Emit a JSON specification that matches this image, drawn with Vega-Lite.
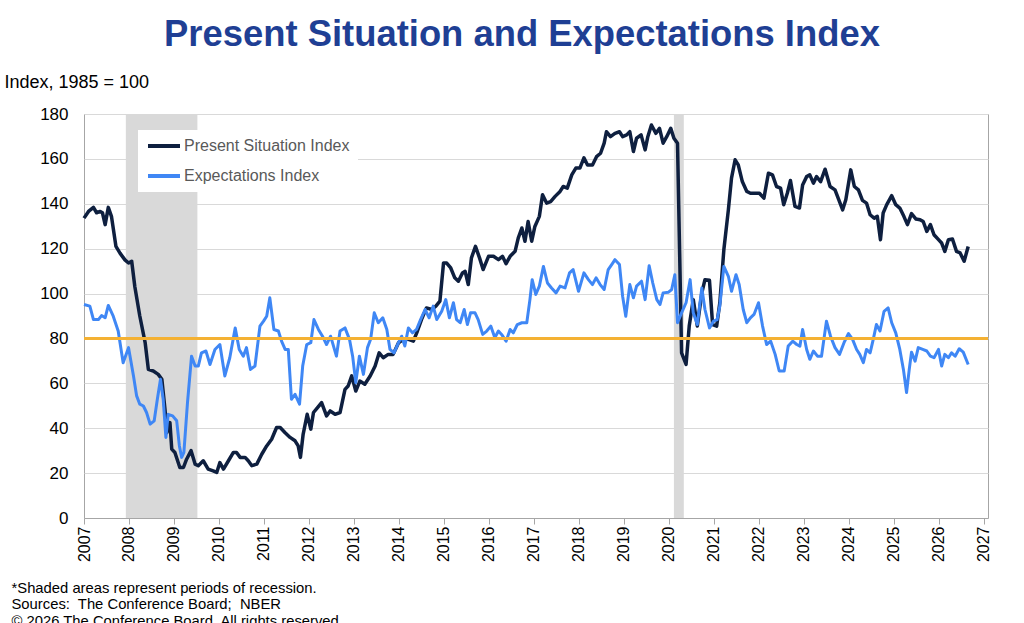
{
  "$schema": "https://vega.github.io/schema/vega-lite/v6.json",
  "width": 904,
  "height": 404,
  "autosize": {"type": "none"},
  "padding": {"left": 84, "top": 114, "right": 36, "bottom": 105},
  "background": "white",
  "config": {
    "font": "Liberation Sans",
    "view": {"stroke": "#a6a6a6", "strokeWidth": 1}
  },
  "title": {
    "text": "Present Situation and Expectations Index",
    "font": "Liberation Sans",
    "fontSize": 36.4,
    "fontWeight": "bold",
    "color": "#1f3f94",
    "anchor": "middle",
    "dx": -14,
    "offset": 20
  },
  "datasets": {
    "recessions": [
      {"t": 2007.93, "t2": 2009.52},
      {"t": 2020.11, "t2": 2020.33}
    ],
    "index": [
      {"t": 2007.00, "s": "Present Situation Index", "v": 133.6},
      {"t": 2007.10, "s": "Present Situation Index", "v": 136.6},
      {"t": 2007.21, "s": "Present Situation Index", "v": 138.4},
      {"t": 2007.28, "s": "Present Situation Index", "v": 136},
      {"t": 2007.36, "s": "Present Situation Index", "v": 136.6},
      {"t": 2007.41, "s": "Present Situation Index", "v": 136},
      {"t": 2007.47, "s": "Present Situation Index", "v": 130.7},
      {"t": 2007.54, "s": "Present Situation Index", "v": 138.4},
      {"t": 2007.61, "s": "Present Situation Index", "v": 134.4},
      {"t": 2007.71, "s": "Present Situation Index", "v": 121},
      {"t": 2007.80, "s": "Present Situation Index", "v": 118},
      {"t": 2007.91, "s": "Present Situation Index", "v": 115},
      {"t": 2007.99, "s": "Present Situation Index", "v": 113.6},
      {"t": 2008.06, "s": "Present Situation Index", "v": 114.4},
      {"t": 2008.13, "s": "Present Situation Index", "v": 103},
      {"t": 2008.24, "s": "Present Situation Index", "v": 90},
      {"t": 2008.36, "s": "Present Situation Index", "v": 78},
      {"t": 2008.43, "s": "Present Situation Index", "v": 66.2},
      {"t": 2008.54, "s": "Present Situation Index", "v": 65.5},
      {"t": 2008.65, "s": "Present Situation Index", "v": 64},
      {"t": 2008.73, "s": "Present Situation Index", "v": 61.8},
      {"t": 2008.80, "s": "Present Situation Index", "v": 48.4},
      {"t": 2008.84, "s": "Present Situation Index", "v": 38},
      {"t": 2008.91, "s": "Present Situation Index", "v": 42.5},
      {"t": 2008.95, "s": "Present Situation Index", "v": 30.7},
      {"t": 2009.02, "s": "Present Situation Index", "v": 29.2},
      {"t": 2009.13, "s": "Present Situation Index", "v": 22.5},
      {"t": 2009.21, "s": "Present Situation Index", "v": 22.5},
      {"t": 2009.28, "s": "Present Situation Index", "v": 26.2},
      {"t": 2009.38, "s": "Present Situation Index", "v": 30},
      {"t": 2009.47, "s": "Present Situation Index", "v": 24},
      {"t": 2009.54, "s": "Present Situation Index", "v": 23.3},
      {"t": 2009.65, "s": "Present Situation Index", "v": 25.5},
      {"t": 2009.76, "s": "Present Situation Index", "v": 21.8},
      {"t": 2009.87, "s": "Present Situation Index", "v": 21},
      {"t": 2009.95, "s": "Present Situation Index", "v": 20.3},
      {"t": 2010.02, "s": "Present Situation Index", "v": 24.7},
      {"t": 2010.10, "s": "Present Situation Index", "v": 21.8},
      {"t": 2010.21, "s": "Present Situation Index", "v": 25.5},
      {"t": 2010.32, "s": "Present Situation Index", "v": 29.2},
      {"t": 2010.39, "s": "Present Situation Index", "v": 29.2},
      {"t": 2010.47, "s": "Present Situation Index", "v": 27},
      {"t": 2010.58, "s": "Present Situation Index", "v": 27},
      {"t": 2010.65, "s": "Present Situation Index", "v": 25.5},
      {"t": 2010.73, "s": "Present Situation Index", "v": 23.3},
      {"t": 2010.84, "s": "Present Situation Index", "v": 24},
      {"t": 2010.95, "s": "Present Situation Index", "v": 28.4},
      {"t": 2011.06, "s": "Present Situation Index", "v": 32.1},
      {"t": 2011.17, "s": "Present Situation Index", "v": 35.1},
      {"t": 2011.28, "s": "Present Situation Index", "v": 40.3},
      {"t": 2011.36, "s": "Present Situation Index", "v": 40.3},
      {"t": 2011.47, "s": "Present Situation Index", "v": 38},
      {"t": 2011.58, "s": "Present Situation Index", "v": 35.9},
      {"t": 2011.69, "s": "Present Situation Index", "v": 34.4},
      {"t": 2011.76, "s": "Present Situation Index", "v": 32.1},
      {"t": 2011.81, "s": "Present Situation Index", "v": 27},
      {"t": 2011.87, "s": "Present Situation Index", "v": 37.3},
      {"t": 2011.96, "s": "Present Situation Index", "v": 46.2},
      {"t": 2012.04, "s": "Present Situation Index", "v": 39.6},
      {"t": 2012.10, "s": "Present Situation Index", "v": 47},
      {"t": 2012.19, "s": "Present Situation Index", "v": 49.2},
      {"t": 2012.28, "s": "Present Situation Index", "v": 51.4},
      {"t": 2012.39, "s": "Present Situation Index", "v": 45.5},
      {"t": 2012.47, "s": "Present Situation Index", "v": 47.7},
      {"t": 2012.58, "s": "Present Situation Index", "v": 46.2},
      {"t": 2012.69, "s": "Present Situation Index", "v": 47},
      {"t": 2012.80, "s": "Present Situation Index", "v": 57.3},
      {"t": 2012.87, "s": "Present Situation Index", "v": 58.8},
      {"t": 2012.95, "s": "Present Situation Index", "v": 63.3},
      {"t": 2013.04, "s": "Present Situation Index", "v": 56.6},
      {"t": 2013.13, "s": "Present Situation Index", "v": 61},
      {"t": 2013.24, "s": "Present Situation Index", "v": 59.6},
      {"t": 2013.36, "s": "Present Situation Index", "v": 63.3},
      {"t": 2013.47, "s": "Present Situation Index", "v": 67.7},
      {"t": 2013.56, "s": "Present Situation Index", "v": 73.6},
      {"t": 2013.65, "s": "Present Situation Index", "v": 71.4},
      {"t": 2013.76, "s": "Present Situation Index", "v": 72.9},
      {"t": 2013.87, "s": "Present Situation Index", "v": 72.9},
      {"t": 2013.99, "s": "Present Situation Index", "v": 78.1},
      {"t": 2014.10, "s": "Present Situation Index", "v": 79.6},
      {"t": 2014.21, "s": "Present Situation Index", "v": 79.6},
      {"t": 2014.32, "s": "Present Situation Index", "v": 78.8},
      {"t": 2014.41, "s": "Present Situation Index", "v": 83.3},
      {"t": 2014.50, "s": "Present Situation Index", "v": 88.4},
      {"t": 2014.61, "s": "Present Situation Index", "v": 93.6},
      {"t": 2014.73, "s": "Present Situation Index", "v": 92.9},
      {"t": 2014.82, "s": "Present Situation Index", "v": 94.4},
      {"t": 2014.91, "s": "Present Situation Index", "v": 96.6},
      {"t": 2014.99, "s": "Present Situation Index", "v": 113.6},
      {"t": 2015.06, "s": "Present Situation Index", "v": 113.6},
      {"t": 2015.15, "s": "Present Situation Index", "v": 111.4},
      {"t": 2015.24, "s": "Present Situation Index", "v": 107},
      {"t": 2015.32, "s": "Present Situation Index", "v": 105.5},
      {"t": 2015.41, "s": "Present Situation Index", "v": 109.2},
      {"t": 2015.47, "s": "Present Situation Index", "v": 109.9},
      {"t": 2015.54, "s": "Present Situation Index", "v": 104},
      {"t": 2015.61, "s": "Present Situation Index", "v": 115.9},
      {"t": 2015.70, "s": "Present Situation Index", "v": 121},
      {"t": 2015.79, "s": "Present Situation Index", "v": 115.9},
      {"t": 2015.87, "s": "Present Situation Index", "v": 110.7},
      {"t": 2015.99, "s": "Present Situation Index", "v": 116.6},
      {"t": 2016.10, "s": "Present Situation Index", "v": 116.6},
      {"t": 2016.21, "s": "Present Situation Index", "v": 115.1},
      {"t": 2016.30, "s": "Present Situation Index", "v": 116.6},
      {"t": 2016.38, "s": "Present Situation Index", "v": 113.3},
      {"t": 2016.47, "s": "Present Situation Index", "v": 116.6},
      {"t": 2016.58, "s": "Present Situation Index", "v": 118.8},
      {"t": 2016.65, "s": "Present Situation Index", "v": 124.7},
      {"t": 2016.73, "s": "Present Situation Index", "v": 129.2},
      {"t": 2016.80, "s": "Present Situation Index", "v": 123.3},
      {"t": 2016.87, "s": "Present Situation Index", "v": 132.1},
      {"t": 2016.95, "s": "Present Situation Index", "v": 123.3},
      {"t": 2017.02, "s": "Present Situation Index", "v": 129.9},
      {"t": 2017.12, "s": "Present Situation Index", "v": 134.4},
      {"t": 2017.19, "s": "Present Situation Index", "v": 144},
      {"t": 2017.28, "s": "Present Situation Index", "v": 140.3},
      {"t": 2017.37, "s": "Present Situation Index", "v": 141},
      {"t": 2017.47, "s": "Present Situation Index", "v": 143.3},
      {"t": 2017.58, "s": "Present Situation Index", "v": 145.5},
      {"t": 2017.65, "s": "Present Situation Index", "v": 147.7},
      {"t": 2017.74, "s": "Present Situation Index", "v": 147},
      {"t": 2017.84, "s": "Present Situation Index", "v": 152.9},
      {"t": 2017.93, "s": "Present Situation Index", "v": 155.9},
      {"t": 2018.02, "s": "Present Situation Index", "v": 155.9},
      {"t": 2018.11, "s": "Present Situation Index", "v": 160.5},
      {"t": 2018.19, "s": "Present Situation Index", "v": 157.3},
      {"t": 2018.30, "s": "Present Situation Index", "v": 157.3},
      {"t": 2018.39, "s": "Present Situation Index", "v": 161},
      {"t": 2018.48, "s": "Present Situation Index", "v": 162.5},
      {"t": 2018.56, "s": "Present Situation Index", "v": 167},
      {"t": 2018.61, "s": "Present Situation Index", "v": 172.1},
      {"t": 2018.70, "s": "Present Situation Index", "v": 169.9},
      {"t": 2018.80, "s": "Present Situation Index", "v": 171.4},
      {"t": 2018.90, "s": "Present Situation Index", "v": 172.1},
      {"t": 2018.97, "s": "Present Situation Index", "v": 169.9},
      {"t": 2019.06, "s": "Present Situation Index", "v": 170.7},
      {"t": 2019.13, "s": "Present Situation Index", "v": 172.1},
      {"t": 2019.21, "s": "Present Situation Index", "v": 163.3},
      {"t": 2019.28, "s": "Present Situation Index", "v": 169.2},
      {"t": 2019.38, "s": "Present Situation Index", "v": 170.7},
      {"t": 2019.47, "s": "Present Situation Index", "v": 164},
      {"t": 2019.53, "s": "Present Situation Index", "v": 169.9},
      {"t": 2019.61, "s": "Present Situation Index", "v": 175.1},
      {"t": 2019.71, "s": "Present Situation Index", "v": 171.4},
      {"t": 2019.79, "s": "Present Situation Index", "v": 173.6},
      {"t": 2019.87, "s": "Present Situation Index", "v": 167},
      {"t": 2019.95, "s": "Present Situation Index", "v": 169.9},
      {"t": 2020.04, "s": "Present Situation Index", "v": 173.6},
      {"t": 2020.11, "s": "Present Situation Index", "v": 169.2},
      {"t": 2020.19, "s": "Present Situation Index", "v": 167},
      {"t": 2020.28, "s": "Present Situation Index", "v": 73.6},
      {"t": 2020.38, "s": "Present Situation Index", "v": 68.4},
      {"t": 2020.45, "s": "Present Situation Index", "v": 85.5},
      {"t": 2020.54, "s": "Present Situation Index", "v": 97.3},
      {"t": 2020.63, "s": "Present Situation Index", "v": 85.5},
      {"t": 2020.73, "s": "Present Situation Index", "v": 100.3},
      {"t": 2020.80, "s": "Present Situation Index", "v": 106.2},
      {"t": 2020.90, "s": "Present Situation Index", "v": 105.9},
      {"t": 2020.97, "s": "Present Situation Index", "v": 86.2},
      {"t": 2021.06, "s": "Present Situation Index", "v": 85.5},
      {"t": 2021.13, "s": "Present Situation Index", "v": 95.9},
      {"t": 2021.22, "s": "Present Situation Index", "v": 119.6},
      {"t": 2021.32, "s": "Present Situation Index", "v": 137.3},
      {"t": 2021.39, "s": "Present Situation Index", "v": 151.4},
      {"t": 2021.47, "s": "Present Situation Index", "v": 159.6},
      {"t": 2021.54, "s": "Present Situation Index", "v": 157.3},
      {"t": 2021.63, "s": "Present Situation Index", "v": 149.9},
      {"t": 2021.73, "s": "Present Situation Index", "v": 145.5},
      {"t": 2021.81, "s": "Present Situation Index", "v": 144.7},
      {"t": 2021.91, "s": "Present Situation Index", "v": 144.7},
      {"t": 2022.01, "s": "Present Situation Index", "v": 144.7},
      {"t": 2022.11, "s": "Present Situation Index", "v": 142.5},
      {"t": 2022.21, "s": "Present Situation Index", "v": 153.6},
      {"t": 2022.30, "s": "Present Situation Index", "v": 152.9},
      {"t": 2022.39, "s": "Present Situation Index", "v": 147.7},
      {"t": 2022.48, "s": "Present Situation Index", "v": 147},
      {"t": 2022.55, "s": "Present Situation Index", "v": 139.6},
      {"t": 2022.63, "s": "Present Situation Index", "v": 144.7},
      {"t": 2022.70, "s": "Present Situation Index", "v": 150.4},
      {"t": 2022.80, "s": "Present Situation Index", "v": 138.8},
      {"t": 2022.90, "s": "Present Situation Index", "v": 138.1},
      {"t": 2022.97, "s": "Present Situation Index", "v": 148.4},
      {"t": 2023.06, "s": "Present Situation Index", "v": 152.1},
      {"t": 2023.13, "s": "Present Situation Index", "v": 152.9},
      {"t": 2023.21, "s": "Present Situation Index", "v": 149.2},
      {"t": 2023.28, "s": "Present Situation Index", "v": 152.1},
      {"t": 2023.37, "s": "Present Situation Index", "v": 149.9},
      {"t": 2023.47, "s": "Present Situation Index", "v": 155.4},
      {"t": 2023.58, "s": "Present Situation Index", "v": 147.7},
      {"t": 2023.69, "s": "Present Situation Index", "v": 146.2},
      {"t": 2023.86, "s": "Present Situation Index", "v": 137.3},
      {"t": 2023.93, "s": "Present Situation Index", "v": 141.8},
      {"t": 2024.04, "s": "Present Situation Index", "v": 155.1},
      {"t": 2024.12, "s": "Present Situation Index", "v": 147.7},
      {"t": 2024.21, "s": "Present Situation Index", "v": 146.2},
      {"t": 2024.30, "s": "Present Situation Index", "v": 141.5},
      {"t": 2024.39, "s": "Present Situation Index", "v": 140.3},
      {"t": 2024.47, "s": "Present Situation Index", "v": 135.1},
      {"t": 2024.56, "s": "Present Situation Index", "v": 133.6},
      {"t": 2024.63, "s": "Present Situation Index", "v": 134.4},
      {"t": 2024.70, "s": "Present Situation Index", "v": 124},
      {"t": 2024.76, "s": "Present Situation Index", "v": 135.9},
      {"t": 2024.84, "s": "Present Situation Index", "v": 139.6},
      {"t": 2024.95, "s": "Present Situation Index", "v": 143.6},
      {"t": 2025.04, "s": "Present Situation Index", "v": 139.6},
      {"t": 2025.13, "s": "Present Situation Index", "v": 138.1},
      {"t": 2025.22, "s": "Present Situation Index", "v": 134.4},
      {"t": 2025.30, "s": "Present Situation Index", "v": 130.7},
      {"t": 2025.39, "s": "Present Situation Index", "v": 135.6},
      {"t": 2025.49, "s": "Present Situation Index", "v": 133.2},
      {"t": 2025.58, "s": "Present Situation Index", "v": 132.9},
      {"t": 2025.65, "s": "Present Situation Index", "v": 132.1},
      {"t": 2025.73, "s": "Present Situation Index", "v": 127.7},
      {"t": 2025.81, "s": "Present Situation Index", "v": 130.7},
      {"t": 2025.89, "s": "Present Situation Index", "v": 126.2},
      {"t": 2025.99, "s": "Present Situation Index", "v": 124},
      {"t": 2026.06, "s": "Present Situation Index", "v": 122.5},
      {"t": 2026.13, "s": "Present Situation Index", "v": 118.8},
      {"t": 2026.21, "s": "Present Situation Index", "v": 124},
      {"t": 2026.30, "s": "Present Situation Index", "v": 124.3},
      {"t": 2026.39, "s": "Present Situation Index", "v": 118.8},
      {"t": 2026.47, "s": "Present Situation Index", "v": 118.1},
      {"t": 2026.56, "s": "Present Situation Index", "v": 114.4},
      {"t": 2026.65, "s": "Present Situation Index", "v": 121},
      {"t": 2007.00, "s": "Expectations Index", "v": 95.1},
      {"t": 2007.13, "s": "Expectations Index", "v": 94.4},
      {"t": 2007.21, "s": "Expectations Index", "v": 88.4},
      {"t": 2007.32, "s": "Expectations Index", "v": 88.4},
      {"t": 2007.39, "s": "Expectations Index", "v": 90.2},
      {"t": 2007.47, "s": "Expectations Index", "v": 89.2},
      {"t": 2007.54, "s": "Expectations Index", "v": 94.7},
      {"t": 2007.65, "s": "Expectations Index", "v": 89.9},
      {"t": 2007.76, "s": "Expectations Index", "v": 83.3},
      {"t": 2007.87, "s": "Expectations Index", "v": 69.2},
      {"t": 2007.99, "s": "Expectations Index", "v": 75.9},
      {"t": 2008.10, "s": "Expectations Index", "v": 63.3},
      {"t": 2008.17, "s": "Expectations Index", "v": 54.4},
      {"t": 2008.24, "s": "Expectations Index", "v": 50.7},
      {"t": 2008.32, "s": "Expectations Index", "v": 49.9},
      {"t": 2008.39, "s": "Expectations Index", "v": 47},
      {"t": 2008.47, "s": "Expectations Index", "v": 41.8},
      {"t": 2008.56, "s": "Expectations Index", "v": 43.3},
      {"t": 2008.63, "s": "Expectations Index", "v": 52.9},
      {"t": 2008.70, "s": "Expectations Index", "v": 61.8},
      {"t": 2008.76, "s": "Expectations Index", "v": 52.9},
      {"t": 2008.82, "s": "Expectations Index", "v": 35.9},
      {"t": 2008.87, "s": "Expectations Index", "v": 46.2},
      {"t": 2008.97, "s": "Expectations Index", "v": 45.5},
      {"t": 2009.06, "s": "Expectations Index", "v": 43.3},
      {"t": 2009.12, "s": "Expectations Index", "v": 32.1},
      {"t": 2009.17, "s": "Expectations Index", "v": 27},
      {"t": 2009.22, "s": "Expectations Index", "v": 29.2},
      {"t": 2009.30, "s": "Expectations Index", "v": 51.4},
      {"t": 2009.39, "s": "Expectations Index", "v": 72.1},
      {"t": 2009.47, "s": "Expectations Index", "v": 67.7},
      {"t": 2009.54, "s": "Expectations Index", "v": 67.7},
      {"t": 2009.61, "s": "Expectations Index", "v": 73.6},
      {"t": 2009.71, "s": "Expectations Index", "v": 74.4},
      {"t": 2009.80, "s": "Expectations Index", "v": 68.4},
      {"t": 2009.91, "s": "Expectations Index", "v": 75.1},
      {"t": 2010.02, "s": "Expectations Index", "v": 77.3},
      {"t": 2010.13, "s": "Expectations Index", "v": 63.3},
      {"t": 2010.24, "s": "Expectations Index", "v": 71.4},
      {"t": 2010.36, "s": "Expectations Index", "v": 84.7},
      {"t": 2010.45, "s": "Expectations Index", "v": 75.1},
      {"t": 2010.54, "s": "Expectations Index", "v": 72.1},
      {"t": 2010.61, "s": "Expectations Index", "v": 75.9},
      {"t": 2010.70, "s": "Expectations Index", "v": 66.2},
      {"t": 2010.80, "s": "Expectations Index", "v": 67.7},
      {"t": 2010.91, "s": "Expectations Index", "v": 85.5},
      {"t": 2010.99, "s": "Expectations Index", "v": 87.7},
      {"t": 2011.06, "s": "Expectations Index", "v": 89.9},
      {"t": 2011.13, "s": "Expectations Index", "v": 98.1},
      {"t": 2011.22, "s": "Expectations Index", "v": 84},
      {"t": 2011.32, "s": "Expectations Index", "v": 83.3},
      {"t": 2011.39, "s": "Expectations Index", "v": 78.8},
      {"t": 2011.47, "s": "Expectations Index", "v": 75.1},
      {"t": 2011.54, "s": "Expectations Index", "v": 75.1},
      {"t": 2011.61, "s": "Expectations Index", "v": 52.9},
      {"t": 2011.69, "s": "Expectations Index", "v": 55.1},
      {"t": 2011.79, "s": "Expectations Index", "v": 50.7},
      {"t": 2011.86, "s": "Expectations Index", "v": 67.7},
      {"t": 2011.95, "s": "Expectations Index", "v": 77.3},
      {"t": 2012.04, "s": "Expectations Index", "v": 78.1},
      {"t": 2012.11, "s": "Expectations Index", "v": 88.4},
      {"t": 2012.21, "s": "Expectations Index", "v": 84},
      {"t": 2012.30, "s": "Expectations Index", "v": 81},
      {"t": 2012.39, "s": "Expectations Index", "v": 77.3},
      {"t": 2012.48, "s": "Expectations Index", "v": 81},
      {"t": 2012.61, "s": "Expectations Index", "v": 72.1},
      {"t": 2012.69, "s": "Expectations Index", "v": 83.3},
      {"t": 2012.80, "s": "Expectations Index", "v": 84.7},
      {"t": 2012.90, "s": "Expectations Index", "v": 79.6},
      {"t": 2012.97, "s": "Expectations Index", "v": 72.1},
      {"t": 2013.04, "s": "Expectations Index", "v": 60.3},
      {"t": 2013.12, "s": "Expectations Index", "v": 72.1},
      {"t": 2013.21, "s": "Expectations Index", "v": 64},
      {"t": 2013.30, "s": "Expectations Index", "v": 75.9},
      {"t": 2013.37, "s": "Expectations Index", "v": 79.6},
      {"t": 2013.45, "s": "Expectations Index", "v": 91.4},
      {"t": 2013.54, "s": "Expectations Index", "v": 87},
      {"t": 2013.64, "s": "Expectations Index", "v": 89.2},
      {"t": 2013.73, "s": "Expectations Index", "v": 84},
      {"t": 2013.80, "s": "Expectations Index", "v": 75.1},
      {"t": 2013.89, "s": "Expectations Index", "v": 73.6},
      {"t": 2013.99, "s": "Expectations Index", "v": 78.1},
      {"t": 2014.06, "s": "Expectations Index", "v": 81},
      {"t": 2014.13, "s": "Expectations Index", "v": 76.6},
      {"t": 2014.21, "s": "Expectations Index", "v": 84.7},
      {"t": 2014.30, "s": "Expectations Index", "v": 82.5},
      {"t": 2014.39, "s": "Expectations Index", "v": 84},
      {"t": 2014.48, "s": "Expectations Index", "v": 88.4},
      {"t": 2014.58, "s": "Expectations Index", "v": 92.9},
      {"t": 2014.67, "s": "Expectations Index", "v": 89.2},
      {"t": 2014.76, "s": "Expectations Index", "v": 94.4},
      {"t": 2014.84, "s": "Expectations Index", "v": 88.4},
      {"t": 2014.95, "s": "Expectations Index", "v": 92.1},
      {"t": 2015.04, "s": "Expectations Index", "v": 97.3},
      {"t": 2015.12, "s": "Expectations Index", "v": 89.2},
      {"t": 2015.21, "s": "Expectations Index", "v": 95.9},
      {"t": 2015.28, "s": "Expectations Index", "v": 88.4},
      {"t": 2015.36, "s": "Expectations Index", "v": 87},
      {"t": 2015.45, "s": "Expectations Index", "v": 92.9},
      {"t": 2015.52, "s": "Expectations Index", "v": 86.2},
      {"t": 2015.59, "s": "Expectations Index", "v": 91.4},
      {"t": 2015.69, "s": "Expectations Index", "v": 91.4},
      {"t": 2015.76, "s": "Expectations Index", "v": 88.4},
      {"t": 2015.86, "s": "Expectations Index", "v": 81.8},
      {"t": 2015.95, "s": "Expectations Index", "v": 83.3},
      {"t": 2016.04, "s": "Expectations Index", "v": 85.5},
      {"t": 2016.13, "s": "Expectations Index", "v": 80.3},
      {"t": 2016.21, "s": "Expectations Index", "v": 83.3},
      {"t": 2016.28, "s": "Expectations Index", "v": 81.8},
      {"t": 2016.38, "s": "Expectations Index", "v": 78.8},
      {"t": 2016.47, "s": "Expectations Index", "v": 84},
      {"t": 2016.54, "s": "Expectations Index", "v": 82.5},
      {"t": 2016.63, "s": "Expectations Index", "v": 86.2},
      {"t": 2016.73, "s": "Expectations Index", "v": 87},
      {"t": 2016.84, "s": "Expectations Index", "v": 87},
      {"t": 2016.91, "s": "Expectations Index", "v": 97.3},
      {"t": 2016.96, "s": "Expectations Index", "v": 106.2},
      {"t": 2017.04, "s": "Expectations Index", "v": 99.6},
      {"t": 2017.12, "s": "Expectations Index", "v": 103.3},
      {"t": 2017.21, "s": "Expectations Index", "v": 112.1},
      {"t": 2017.30, "s": "Expectations Index", "v": 104.7},
      {"t": 2017.39, "s": "Expectations Index", "v": 102.5},
      {"t": 2017.49, "s": "Expectations Index", "v": 100.3},
      {"t": 2017.58, "s": "Expectations Index", "v": 103.3},
      {"t": 2017.69, "s": "Expectations Index", "v": 102.5},
      {"t": 2017.79, "s": "Expectations Index", "v": 109.2},
      {"t": 2017.87, "s": "Expectations Index", "v": 110.7},
      {"t": 2017.99, "s": "Expectations Index", "v": 101},
      {"t": 2018.11, "s": "Expectations Index", "v": 109.2},
      {"t": 2018.21, "s": "Expectations Index", "v": 106.2},
      {"t": 2018.30, "s": "Expectations Index", "v": 104},
      {"t": 2018.38, "s": "Expectations Index", "v": 107},
      {"t": 2018.47, "s": "Expectations Index", "v": 104},
      {"t": 2018.56, "s": "Expectations Index", "v": 101.8},
      {"t": 2018.65, "s": "Expectations Index", "v": 110.7},
      {"t": 2018.75, "s": "Expectations Index", "v": 113.6},
      {"t": 2018.80, "s": "Expectations Index", "v": 115.1},
      {"t": 2018.90, "s": "Expectations Index", "v": 112.9},
      {"t": 2018.97, "s": "Expectations Index", "v": 98.8},
      {"t": 2019.04, "s": "Expectations Index", "v": 89.9},
      {"t": 2019.13, "s": "Expectations Index", "v": 104},
      {"t": 2019.21, "s": "Expectations Index", "v": 98.1},
      {"t": 2019.28, "s": "Expectations Index", "v": 103.3},
      {"t": 2019.39, "s": "Expectations Index", "v": 105.5},
      {"t": 2019.47, "s": "Expectations Index", "v": 97.3},
      {"t": 2019.56, "s": "Expectations Index", "v": 112.4},
      {"t": 2019.64, "s": "Expectations Index", "v": 104.7},
      {"t": 2019.73, "s": "Expectations Index", "v": 97.3},
      {"t": 2019.80, "s": "Expectations Index", "v": 95.1},
      {"t": 2019.87, "s": "Expectations Index", "v": 100.3},
      {"t": 2019.99, "s": "Expectations Index", "v": 100.6},
      {"t": 2020.06, "s": "Expectations Index", "v": 101.8},
      {"t": 2020.13, "s": "Expectations Index", "v": 108.4},
      {"t": 2020.19, "s": "Expectations Index", "v": 87},
      {"t": 2020.28, "s": "Expectations Index", "v": 91.4},
      {"t": 2020.38, "s": "Expectations Index", "v": 95.9},
      {"t": 2020.47, "s": "Expectations Index", "v": 106.2},
      {"t": 2020.54, "s": "Expectations Index", "v": 91.4},
      {"t": 2020.63, "s": "Expectations Index", "v": 86.2},
      {"t": 2020.73, "s": "Expectations Index", "v": 102.5},
      {"t": 2020.80, "s": "Expectations Index", "v": 92.9},
      {"t": 2020.90, "s": "Expectations Index", "v": 84.7},
      {"t": 2020.99, "s": "Expectations Index", "v": 87.7},
      {"t": 2021.07, "s": "Expectations Index", "v": 88.4},
      {"t": 2021.13, "s": "Expectations Index", "v": 94.4},
      {"t": 2021.22, "s": "Expectations Index", "v": 112.1},
      {"t": 2021.32, "s": "Expectations Index", "v": 107.7},
      {"t": 2021.39, "s": "Expectations Index", "v": 101},
      {"t": 2021.49, "s": "Expectations Index", "v": 108.4},
      {"t": 2021.56, "s": "Expectations Index", "v": 104},
      {"t": 2021.65, "s": "Expectations Index", "v": 92.9},
      {"t": 2021.73, "s": "Expectations Index", "v": 87},
      {"t": 2021.81, "s": "Expectations Index", "v": 89.2},
      {"t": 2021.89, "s": "Expectations Index", "v": 90.7},
      {"t": 2021.99, "s": "Expectations Index", "v": 95.9},
      {"t": 2022.08, "s": "Expectations Index", "v": 85.5},
      {"t": 2022.17, "s": "Expectations Index", "v": 77.3},
      {"t": 2022.26, "s": "Expectations Index", "v": 78.8},
      {"t": 2022.36, "s": "Expectations Index", "v": 72.9},
      {"t": 2022.45, "s": "Expectations Index", "v": 65.5},
      {"t": 2022.56, "s": "Expectations Index", "v": 65.5},
      {"t": 2022.65, "s": "Expectations Index", "v": 76.6},
      {"t": 2022.75, "s": "Expectations Index", "v": 78.8},
      {"t": 2022.84, "s": "Expectations Index", "v": 77.3},
      {"t": 2022.91, "s": "Expectations Index", "v": 76.6},
      {"t": 2022.97, "s": "Expectations Index", "v": 84},
      {"t": 2023.06, "s": "Expectations Index", "v": 75.1},
      {"t": 2023.13, "s": "Expectations Index", "v": 70.7},
      {"t": 2023.21, "s": "Expectations Index", "v": 74.4},
      {"t": 2023.30, "s": "Expectations Index", "v": 72.1},
      {"t": 2023.39, "s": "Expectations Index", "v": 72.1},
      {"t": 2023.50, "s": "Expectations Index", "v": 87.7},
      {"t": 2023.59, "s": "Expectations Index", "v": 81},
      {"t": 2023.69, "s": "Expectations Index", "v": 75.9},
      {"t": 2023.79, "s": "Expectations Index", "v": 72.9},
      {"t": 2023.89, "s": "Expectations Index", "v": 78.1},
      {"t": 2023.99, "s": "Expectations Index", "v": 82.2},
      {"t": 2024.08, "s": "Expectations Index", "v": 79.6},
      {"t": 2024.17, "s": "Expectations Index", "v": 75.1},
      {"t": 2024.24, "s": "Expectations Index", "v": 72.9},
      {"t": 2024.32, "s": "Expectations Index", "v": 69.2},
      {"t": 2024.39, "s": "Expectations Index", "v": 75.1},
      {"t": 2024.47, "s": "Expectations Index", "v": 73.6},
      {"t": 2024.54, "s": "Expectations Index", "v": 79.6},
      {"t": 2024.61, "s": "Expectations Index", "v": 86.2},
      {"t": 2024.69, "s": "Expectations Index", "v": 83.3},
      {"t": 2024.78, "s": "Expectations Index", "v": 92.1},
      {"t": 2024.87, "s": "Expectations Index", "v": 93.6},
      {"t": 2024.95, "s": "Expectations Index", "v": 87},
      {"t": 2025.04, "s": "Expectations Index", "v": 82.5},
      {"t": 2025.13, "s": "Expectations Index", "v": 75.1},
      {"t": 2025.21, "s": "Expectations Index", "v": 66.2},
      {"t": 2025.28, "s": "Expectations Index", "v": 55.9},
      {"t": 2025.34, "s": "Expectations Index", "v": 66.2},
      {"t": 2025.39, "s": "Expectations Index", "v": 73.9},
      {"t": 2025.47, "s": "Expectations Index", "v": 69.9},
      {"t": 2025.54, "s": "Expectations Index", "v": 75.9},
      {"t": 2025.64, "s": "Expectations Index", "v": 75.1},
      {"t": 2025.73, "s": "Expectations Index", "v": 74.4},
      {"t": 2025.81, "s": "Expectations Index", "v": 72.1},
      {"t": 2025.89, "s": "Expectations Index", "v": 71.4},
      {"t": 2025.99, "s": "Expectations Index", "v": 75.1},
      {"t": 2026.06, "s": "Expectations Index", "v": 67.7},
      {"t": 2026.13, "s": "Expectations Index", "v": 72.9},
      {"t": 2026.21, "s": "Expectations Index", "v": 71.4},
      {"t": 2026.28, "s": "Expectations Index", "v": 73.6},
      {"t": 2026.36, "s": "Expectations Index", "v": 72.1},
      {"t": 2026.45, "s": "Expectations Index", "v": 75.4},
      {"t": 2026.54, "s": "Expectations Index", "v": 73.9},
      {"t": 2026.65, "s": "Expectations Index", "v": 68.4}
    ]
  },
  "layer": [
    {
      "data": {"name": "recessions"},
      "mark": {"type": "rect", "color": "#d9d9d9"},
      "encoding": {
        "x": {
          "field": "t",
          "type": "quantitative",
          "scale": {"domain": [2007, 2027.09], "nice": false, "zero": false},
          "axis": {
            "values": [2007, 2008, 2009, 2010, 2011, 2012, 2013, 2014, 2015, 2016, 2017, 2018, 2019, 2020, 2021, 2022, 2023, 2024, 2025, 2026, 2027],
            "format": "d",
            "labelAngle": -90,
            "labelFontSize": 16,
            "labelColor": "#000000",
            "labelPadding": 2,
            "tickSize": 6,
            "tickColor": "#a6a6a6",
            "domainColor": "#a6a6a6",
            "grid": false,
            "title": [
              "*Shaded areas represent periods of recession.",
              "Sources:\u00a0 The Conference Board;\u00a0 NBER",
              "© 2026 The Conference Board. All rights reserved."
            ],
            "titleFont": "Liberation Sans",
            "titleFontSize": 14.8,
            "titleFontWeight": "normal",
            "titleColor": "#000000",
            "titleAlign": "left",
            "titleAnchor": "start",
            "titleAngle": 0,
            "titleBaseline": "alphabetic",
            "titleLineHeight": 16.5,
            "titleX": -73,
            "titleY": 74
          }
        },
        "x2": {"field": "t2"}
      }
    },
    {
      "data": {"name": "index"},
      "transform": [{"filter": "datum.s == 'Present Situation Index'"}],
      "mark": {"type": "line", "strokeWidth": 3.5, "strokeJoin": "round"},
      "encoding": {
        "x": {"field": "t", "type": "quantitative"},
        "y": {
          "field": "v",
          "type": "quantitative",
          "scale": {"domain": [0, 180], "nice": false},
          "axis": {
            "values": [0, 20, 40, 60, 80, 100, 120, 140, 160, 180],
            "grid": true,
            "gridColor": "#d9d9d9",
            "ticks": false,
            "domain": false,
            "labelFontSize": 17,
            "labelColor": "#000000",
            "labelPadding": 16,
            "title": "Index, 1985 = 100",
            "titleFontSize": 18,
            "titleFontWeight": "normal",
            "titleColor": "#000000",
            "titleAngle": 0,
            "titleAlign": "left",
            "titleBaseline": "alphabetic",
            "titleX": -80,
            "titleY": -27
          }
        },
        "color": {
          "field": "s",
          "type": "nominal",
          "scale": {"domain": ["Present Situation Index", "Expectations Index"], "range": ["#0e1f3f", "#3f87f5"]},
          "legend": {
            "orient": "none",
            "legendX": 54,
            "legendY": 16,
            "title": null,
            "symbolType": "stroke",
            "symbolSize": 1024,
            "symbolStrokeWidth": 4,
            "clipHeight": 16,
            "rowPadding": 14,
            "labelOffset": 2,
            "labelLimit": 300,
            "labelFontSize": 16,
            "labelColor": "#595959",
            "fillColor": "#ffffff",
            "padding": 8
          }
        }
      }
    },
    {
      "data": {"name": "index"},
      "transform": [{"filter": "datum.s == 'Expectations Index'"}],
      "mark": {"type": "line", "strokeWidth": 3, "strokeJoin": "round"},
      "encoding": {
        "x": {"field": "t", "type": "quantitative"},
        "y": {"field": "v", "type": "quantitative"},
        "color": {
          "field": "s",
          "type": "nominal",
          "scale": {"domain": ["Present Situation Index", "Expectations Index"], "range": ["#0e1f3f", "#3f87f5"]},
          "legend": null
        }
      }
    },
    {
      "data": {"values": [{}]},
      "mark": {"type": "rule", "color": "#f4b133", "strokeWidth": 3},
      "encoding": {"y": {"datum": 80, "type": "quantitative"}}
    }
  ]
}
